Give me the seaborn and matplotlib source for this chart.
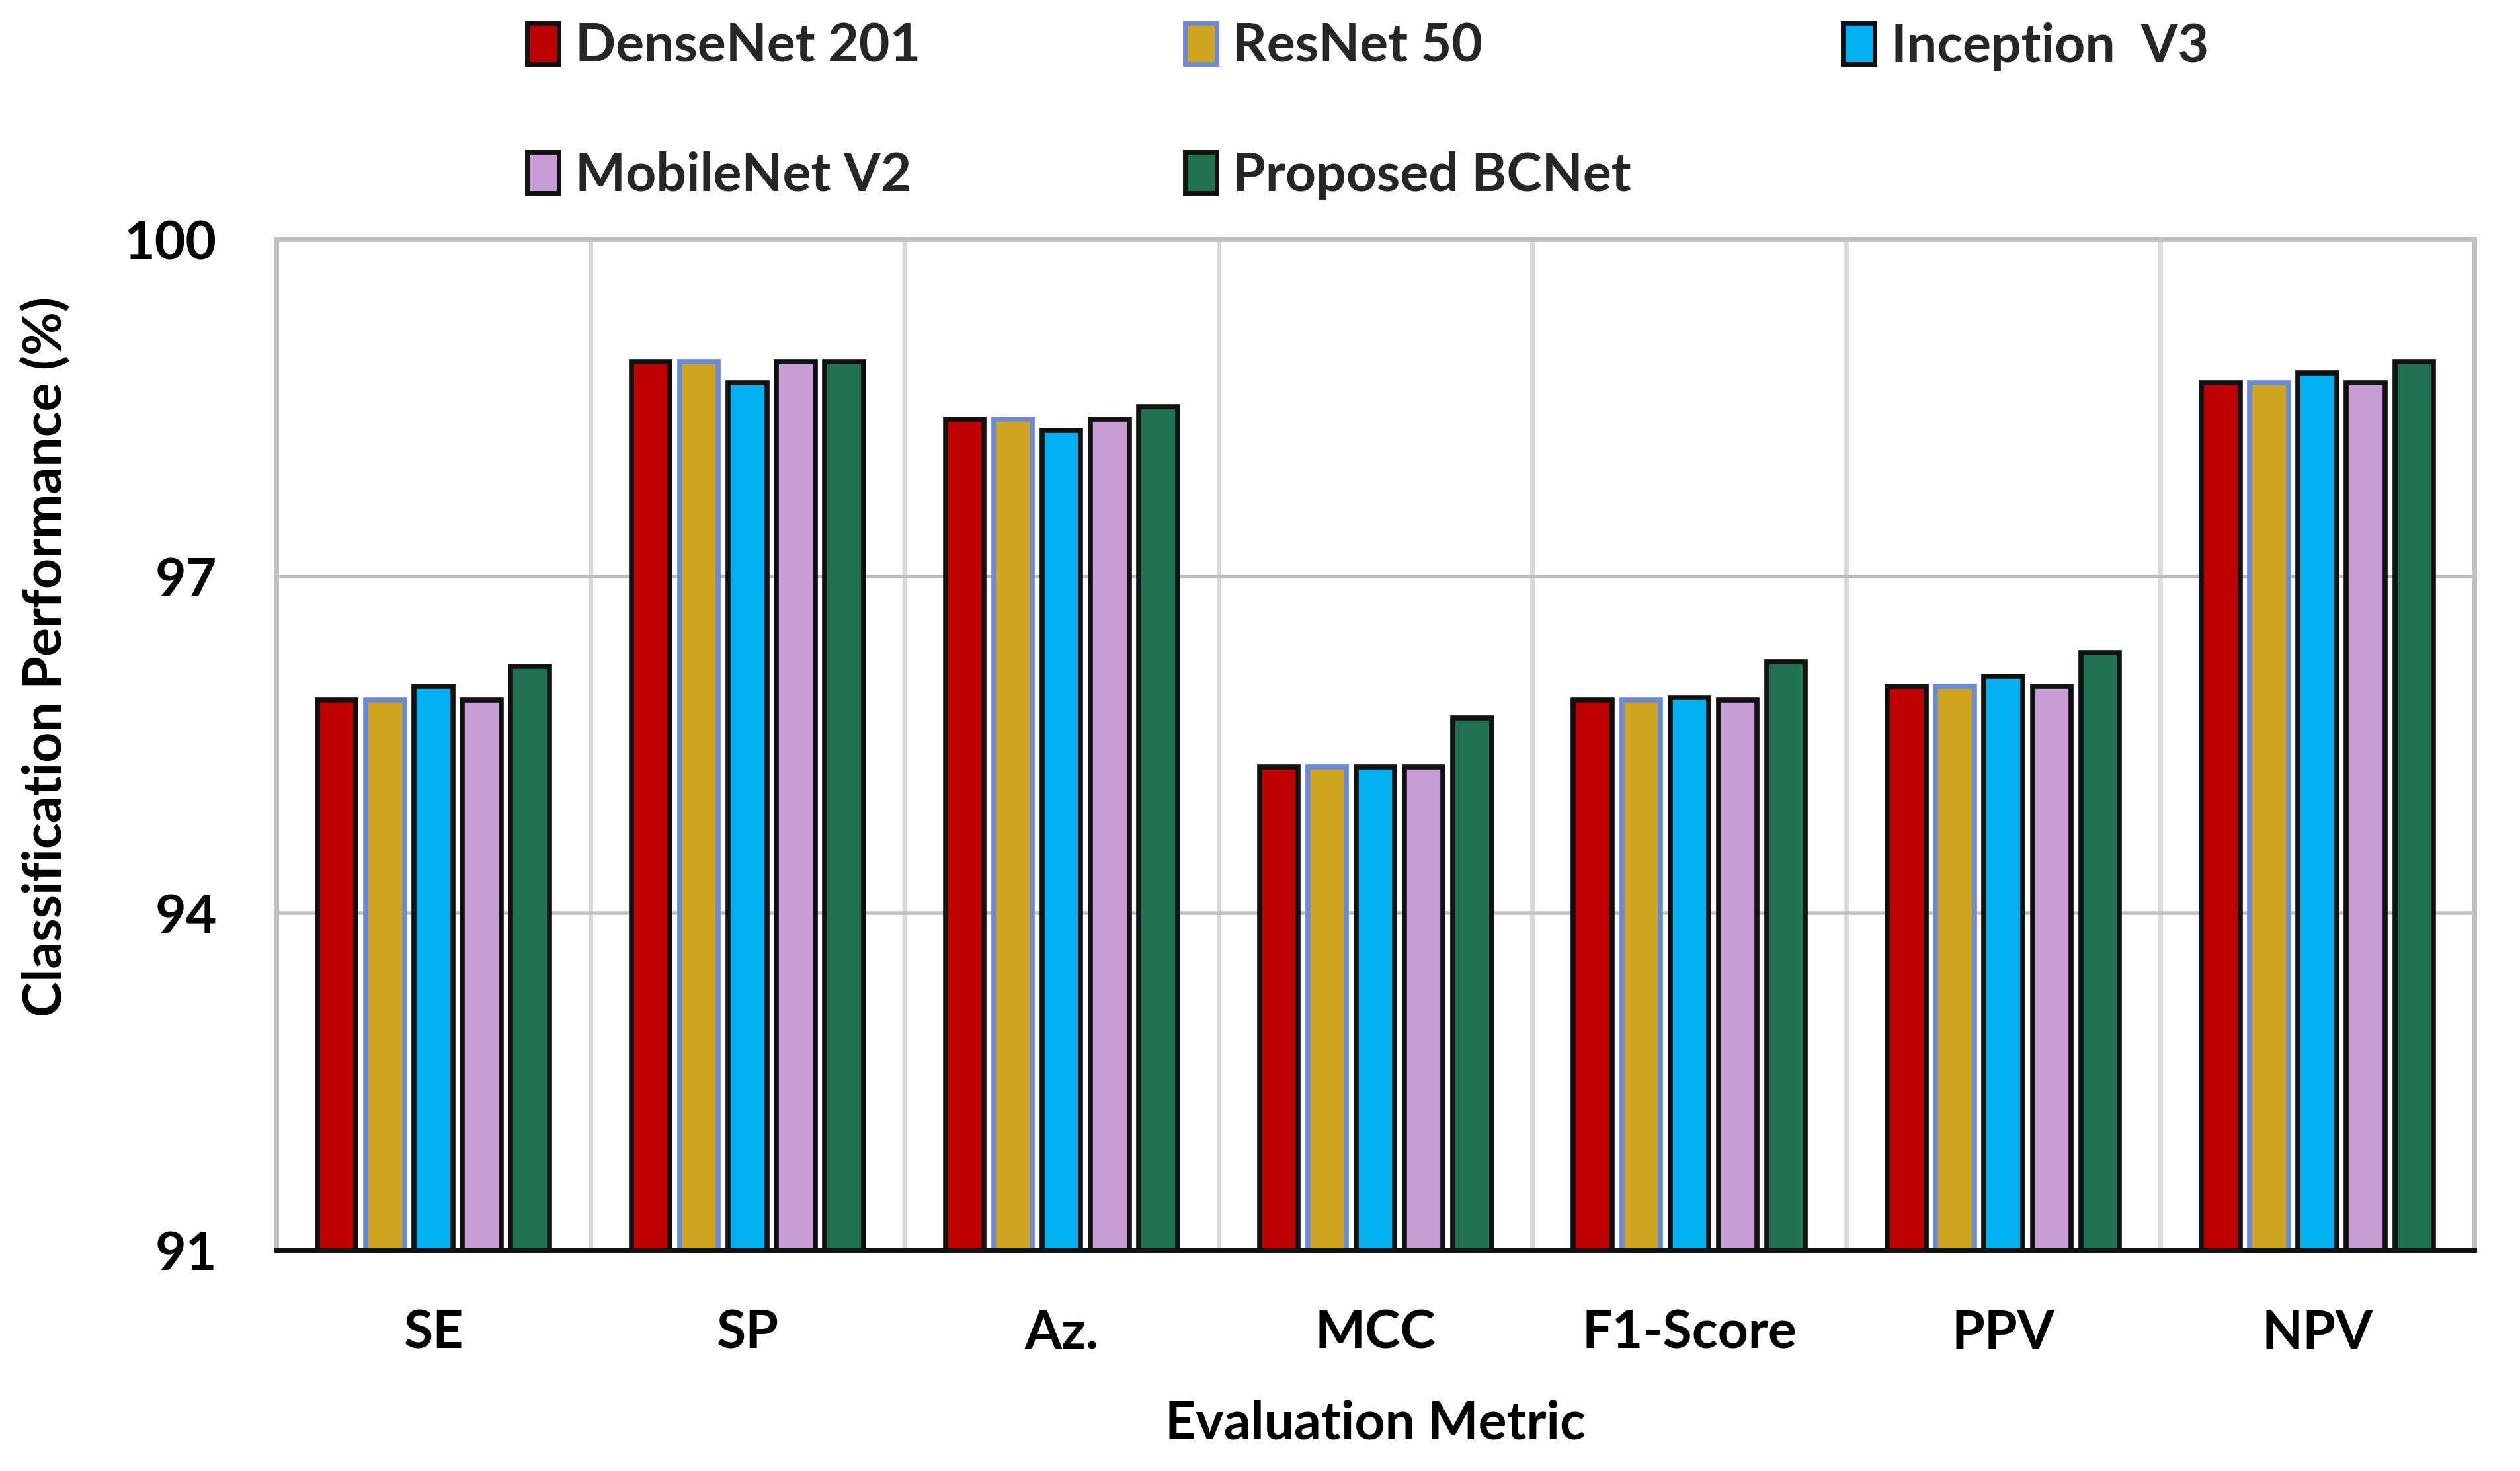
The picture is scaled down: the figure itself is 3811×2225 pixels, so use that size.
import numpy as np
import pandas as pd
import matplotlib
matplotlib.use("Agg")
import matplotlib.pyplot as plt
from matplotlib.patches import Patch
import seaborn as sns

metrics = ["SE", "SP", "Az.", "MCC", "F1-Score", "PPV", "NPV"]
models = ["DenseNet 201", "ResNet 50", "Inception  V3", "MobileNet V2", "Proposed BCNet"]
densenet = [95.90, 98.91, 98.40, 95.30, 95.90, 96.02, 98.72]
resnet = [95.90, 98.91, 98.40, 95.30, 95.90, 96.02, 98.72]
inception = [96.02, 98.72, 98.30, 95.30, 95.92, 96.11, 98.81]
mobilenet = [95.90, 98.91, 98.40, 95.30, 95.90, 96.02, 98.72]
bcnet = [96.20, 98.91, 98.51, 95.74, 96.24, 96.32, 98.91]
yticks = [91, 94, 97, 100]

fills = ["#C00000", "#CFA520", "#00B0F0", "#C59CD6", "#1F7352"]
edges = ["#111111", "#6A8AD8", "#111111", "#111111", "#111111"]

series = [densenet, resnet, inception, mobilenet, bcnet]
df = pd.DataFrame({
    "Metric": np.repeat([metrics], len(models), axis=0).ravel(),
    "Model": np.repeat(models, len(metrics)),
    "Value": np.concatenate(series),
})

sns.set_theme(style="white")
plt.rcParams["font.family"] = ["Lato", "DejaVu Sans"]
plt.rcParams["font.weight"] = "bold"
plt.rcParams["axes.labelweight"] = "bold"

fig = plt.figure(figsize=(38.11, 22.25), dpi=100)
ax = fig.add_axes([0.1097, 0.1501, 0.9819 - 0.1097, 0.8373 - 0.1501])

sns.barplot(data=df, x="Metric", y="Value", hue="Model", order=metrics,
            hue_order=models, palette=fills, saturation=1, width=0.77,
            gap=0.2, edgecolor="#111111", linewidth=5.5, ax=ax, legend=False)
for cont, ec in zip(ax.containers, edges):
    for p in cont:
        p.set_edgecolor(ec)
        p.set_zorder(3)

ax.set_ylim(91, 100)
ax.set_xlim(-0.5, 6.5)
ax.set_yticks(yticks)
ax.set_yticklabels([str(t) for t in yticks], fontsize=58, fontweight="bold")
ax.set_xticks(range(len(metrics)))
ax.set_xticklabels(metrics, fontsize=58, fontweight="bold")
ax.set_xticks(np.arange(-0.5, 7, 1), minor=True)

ax.tick_params(axis="x", which="major", length=0, pad=64, colors="black")
ax.tick_params(axis="x", which="minor", length=19, width=5, color="#111111", direction="out")
ax.tick_params(axis="y", which="major", length=0, pad=65, colors="black")

ax.set_axisbelow(True)
ax.grid(which="major", axis="y", color="#BFBFBF", linewidth=4)
ax.grid(which="minor", axis="x", color="#D9D9D9", linewidth=5)
ax.grid(which="major", axis="x", visible=False)

for side in ["left", "top", "right"]:
    ax.spines[side].set_color("#C0C0C0")
    ax.spines[side].set_linewidth(5)
ax.spines["bottom"].set_color("#111111")
ax.spines["bottom"].set_linewidth(5)
ax.spines["bottom"].set_zorder(5)

ax.set_xlabel("Evaluation Metric", fontsize=58, fontweight="bold", labelpad=45, color="black")
ax.set_ylabel("Classification Performance (%)", fontsize=58, fontweight="bold", color="black")
ax.yaxis.set_label_coords(-0.0936, 0.587)

handles = [Patch(facecolor=f, edgecolor=e, linewidth=5) for f, e in zip(fills, edges)]
columns = [[0, 3], [1, 4], [2]]
col_x = [797, 1792, 2787]
for idx, x in zip(columns, col_x):
    fig.legend([handles[i] for i in idx], [models[i] for i in idx],
               loc="upper left", bbox_to_anchor=(x / 3811, 1 - 34 / 2225),
               frameon=False, prop={"weight": "bold", "size": 58},
               handlelength=0.6, handleheight=0.8, handletextpad=0.3,
               labelspacing=1.5, borderpad=0, borderaxespad=0)

fig.savefig("out.png", dpi=100, facecolor="white")
